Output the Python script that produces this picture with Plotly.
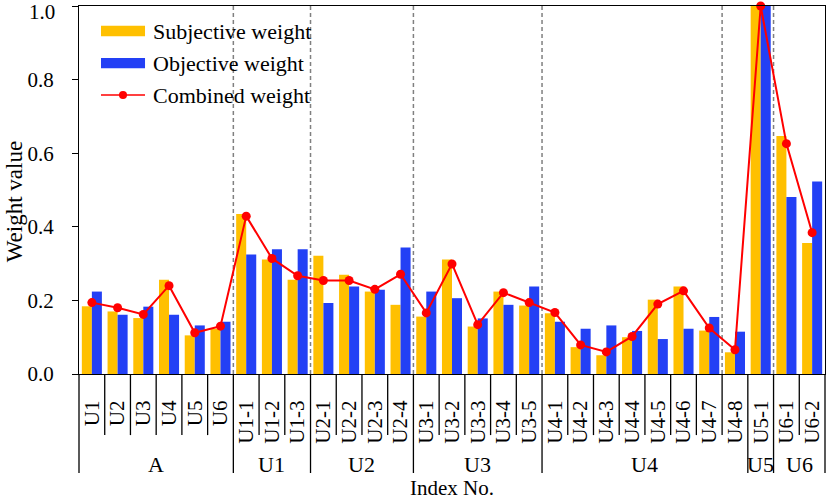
import plotly.graph_objects as go

# Данные
labels = ["U1", "U2", "U3", "U4", "U5", "U6",
          "U1-1", "U1-2", "U1-3",
          "U2-1", "U2-2", "U2-3", "U2-4",
          "U3-1", "U3-2", "U3-3", "U3-4", "U3-5",
          "U4-1", "U4-2", "U4-3", "U4-4", "U4-5", "U4-6", "U4-7", "U4-8",
          "U5-1",
          "U6-1", "U6-2"]
groups = ["A", "U1", "U2", "U3", "U4", "U5", "U6"]
group_sizes = [6, 3, 4, 5, 8, 1, 2]
subjective = [0.184, 0.170, 0.152, 0.256, 0.105, 0.123,
              0.435, 0.311, 0.256,
              0.321, 0.270, 0.224, 0.188,
              0.156, 0.311, 0.129, 0.224, 0.186,
              0.165, 0.073, 0.051, 0.100, 0.202, 0.238, 0.118, 0.059,
              1.000,
              0.647, 0.356]
objective = [0.224, 0.161, 0.183, 0.161, 0.132, 0.142,
             0.325, 0.339, 0.339,
             0.193, 0.238, 0.229, 0.344,
             0.224, 0.206, 0.151, 0.188, 0.238,
             0.142, 0.123, 0.132, 0.117, 0.095, 0.123, 0.155, 0.115,
             1.000,
             0.481, 0.523]
combined = [0.194, 0.180, 0.162, 0.240, 0.112, 0.130,
            0.429, 0.314, 0.267,
            0.254, 0.254, 0.230, 0.271,
            0.166, 0.299, 0.134, 0.221, 0.194,
            0.167, 0.079, 0.060, 0.102, 0.190, 0.226, 0.125, 0.066,
            1.000,
            0.626, 0.384]
y_ticks = [0.0, 0.2, 0.4, 0.6, 0.8, 1.0]
# пунктиры в исходнике стоят не совсем на границах групп
dash_at = [5.5, 8.5, 12.5, 17.5, 24.5, 26.5]

FONT = "Times New Roman, Liberation Serif, DejaVu Serif, serif"
YELLOW = "#FFC000"
BLUE = "#2340F5"
RED = "#FF0000"

xr = [-0.5, len(labels) - 0.5]


def xd(v):
    # позиция по оси x в долях области построения
    return (v - xr[0]) / (xr[1] - xr[0])


fig = go.Figure()
fig.add_trace(go.Bar(x=labels, y=subjective, name="Subjective weight",
                     marker=dict(color=YELLOW, line_width=0)))
fig.add_trace(go.Bar(x=labels, y=objective, name="Objective weight",
                     marker=dict(color=BLUE, line_width=0)))
fig.add_trace(go.Scatter(x=labels, y=combined, name="Combined weight",
                         mode="lines+markers", cliponaxis=False,
                         line=dict(color=RED, width=2),
                         marker=dict(color=RED, size=9)))

shapes = []
# вертикальные пунктиры
for d in dash_at:
    shapes.append(dict(type="line", xref="x domain", yref="paper",
                       x0=xd(d), x1=xd(d), y0=0, y1=1, layer="below",
                       line=dict(color="#808080", width=1.5, dash="4px,3px")))

# разделители подписей оси x
bounds = [0]
for s in group_sizes:
    bounds.append(bounds[-1] + s)
for i in range(len(labels) + 1):
    is_group = i in bounds
    shapes.append(dict(type="line", xref="x domain", yref="paper",
                       x0=xd(i - 0.5), x1=xd(i - 0.5),
                       y0=0, y1=-0.269 if is_group else -0.166,
                       line=dict(color="black", width=1.3)))

annotations = []
for g, a, b in zip(groups, bounds[:-1], bounds[1:]):
    annotations.append(dict(text=g, xref="x domain", yref="paper",
                            x=xd((a + b - 1) / 2), y=-0.247, showarrow=False,
                            xanchor="center", yanchor="middle",
                            font=dict(family=FONT, size=22, color="black")))
annotations.append(dict(text="Index No.", xref="paper", yref="paper",
                        x=0.5, y=-0.31, showarrow=False,
                        xanchor="center", yanchor="middle",
                        font=dict(family=FONT, size=21, color="black")))
annotations.append(dict(text="Weight value", xref="paper", yref="paper",
                        x=-0.087, y=0.467, showarrow=False, textangle=-90,
                        xanchor="center", yanchor="middle",
                        font=dict(family=FONT, size=23, color="black")))
# верхняя подпись оси сдвинута вниз, как в оригинале, чтобы не обрезалась
annotations.append(dict(text=f"{y_ticks[-1]:.1f}", xref="paper", yref="y",
                        x=-0.030, y=y_ticks[-1], yshift=-6, showarrow=False,
                        xanchor="right", yanchor="middle",
                        font=dict(family=FONT, size=21, color="black")))

# легенда вручную: широкие прямоугольники как в оригинале
leg_x0, leg_x1 = 0.0295, 0.0885
leg_rows = [0.932, 0.845, 0.758]
leg_names = ["Subjective weight", "Objective weight", "Combined weight"]
shapes.append(dict(type="rect", xref="paper", yref="paper",
                   x0=leg_x0, x1=leg_x1, y0=leg_rows[0] - 0.014, y1=leg_rows[0] + 0.014,
                   fillcolor=YELLOW, line_width=0))
shapes.append(dict(type="rect", xref="paper", yref="paper",
                   x0=leg_x0, x1=leg_x1, y0=leg_rows[1] - 0.014, y1=leg_rows[1] + 0.014,
                   fillcolor=BLUE, line_width=0))
shapes.append(dict(type="line", xref="paper", yref="paper",
                   x0=leg_x0, x1=leg_x1, y0=leg_rows[2], y1=leg_rows[2],
                   line=dict(color=RED, width=1.5)))
mx = (leg_x0 + leg_x1) / 2
shapes.append(dict(type="circle", xref="paper", yref="paper",
                   x0=mx - 0.0054, x1=mx + 0.0054,
                   y0=leg_rows[2] - 0.011, y1=leg_rows[2] + 0.011,
                   fillcolor=RED, line_width=0))
for name, yy in zip(leg_names, leg_rows):
    annotations.append(dict(text=name, xref="paper", yref="paper",
                            x=0.097, y=yy, showarrow=False,
                            xanchor="left", yanchor="middle",
                            font=dict(family=FONT, size=22, color="black")))

fig.update_layout(
    width=827, height=499,
    margin=dict(l=79, r=2, t=6, b=125),
    paper_bgcolor="white", plot_bgcolor="white",
    barmode="group", bargap=0.22, bargroupgap=0,
    showlegend=False,
    font=dict(family=FONT, size=20, color="black"),
    shapes=shapes, annotations=annotations,
    xaxis=dict(type="category", categoryorder="array", categoryarray=labels,
               range=xr, tickangle=-90, ticks="", ticklabelstandoff=17,
               showline=True, linecolor="black", linewidth=1.3, mirror=True,
               showgrid=False, zeroline=False, automargin=False,
               tickfont=dict(family=FONT, size=21)),
    yaxis=dict(range=[0, 1], tickmode="array", tickvals=y_ticks,
               ticktext=[f"{v:.1f}" for v in y_ticks[:-1]] + [""],
               ticks="outside", ticklen=6, tickcolor="black",
               ticklabelstandoff=14,
               showline=True, linecolor="black", linewidth=1.3, mirror=True,
               showgrid=False, zeroline=False, automargin=False,
               tickfont=dict(family=FONT, size=21)),
)

# убираем отступ body, чтобы график стоял ровно в окне
fig.write_html("out.html", config={"displayModeBar": False},
               post_script="document.body.style.margin='0';")
